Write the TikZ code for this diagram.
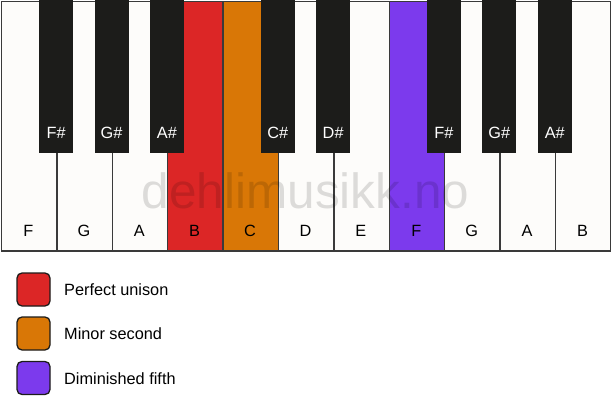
\documentclass[tikz,border=0pt]{standalone}
\usepackage{fontspec}
\setmainfont{Liberation Sans}
\definecolor{wkey}{HTML}{FDFCFA}
\definecolor{bkey}{HTML}{1C1C1A}
\definecolor{keyline}{HTML}{3A3A3A}
\definecolor{cred}{HTML}{DC2626}
\definecolor{corange}{HTML}{D97706}
\definecolor{cpurple}{HTML}{7C3AED}
\tikzset{
  whitekey/.style={draw=keyline, line width=1.5pt, fill=wkey, minimum width=55.4pt, minimum height=249.5pt, anchor=north west, inner sep=0pt},
  blackkey/.style={fill=bkey, minimum width=34pt, minimum height=153pt, anchor=north, inner sep=0pt},
  wlabel/.style={font=\fontsize{16.3}{16}\selectfont, text=black},
  blabel/.style={font=\fontsize{16.3}{16}\selectfont, text=white},
  legbox/.style={draw=bkey, line width=1.3pt, rounded corners=5pt, minimum width=33pt, minimum height=33pt, inner sep=0pt},
  legtext/.style={font=\fontsize{16.3}{16}\selectfont, anchor=west, inner sep=0pt},
  watermark/.style={font=\fontsize{49.5}{49}\selectfont, text=black, text opacity=0.13}
}
\begin{document}
\begin{tikzpicture}[x=1pt,y=-1pt]
\useasboundingbox (0,0) rectangle (611,417);
\fill[white] (0,0) rectangle (611,417);
% white keys
\foreach \i/\n/\c in {0/F/wkey,1/G/wkey,2/A/wkey,3/B/cred,4/C/corange,5/D/wkey,6/E/wkey,7/F/cpurple,8/G/wkey,9/A/wkey,10/B/wkey}{
  \node[whitekey, fill=\c] (w\i) at ({0.75+55.4*\i},0.75) {};
  \node[wlabel] (wl\i) at ({0.75+55.4*\i+27.7},231) {\n};
}
% black keys
\foreach \j/\x/\n in {1/55.4/F\#,2/110.8/G\#,3/166.2/A\#,4/277/C\#,5/332.4/D\#,6/443.2/F\#,7/498.6/G\#,8/554/A\#}{
  \node[blackkey] (b\j) at (\x+0.75,0) {};
  \node[blabel] (bl\j) at (\x+0.75,133) {\n};
}
% watermark
\node[watermark] (wm) at (305.5,191) {dehlimusikk.no};
% legend
\node[legbox, fill=cred] (l1) at (33.5,289.5) {};
\node[legtext] (t1) at (64,290) {Perfect unison};
\node[legbox, fill=corange] (l2) at (33.5,333.5) {};
\node[legtext] (t2) at (64,334) {Minor second};
\node[legbox, fill=cpurple] (l3) at (33.5,378) {};
\node[legtext] (t3) at (64,379) {Diminished fifth};
\end{tikzpicture}
\end{document}
